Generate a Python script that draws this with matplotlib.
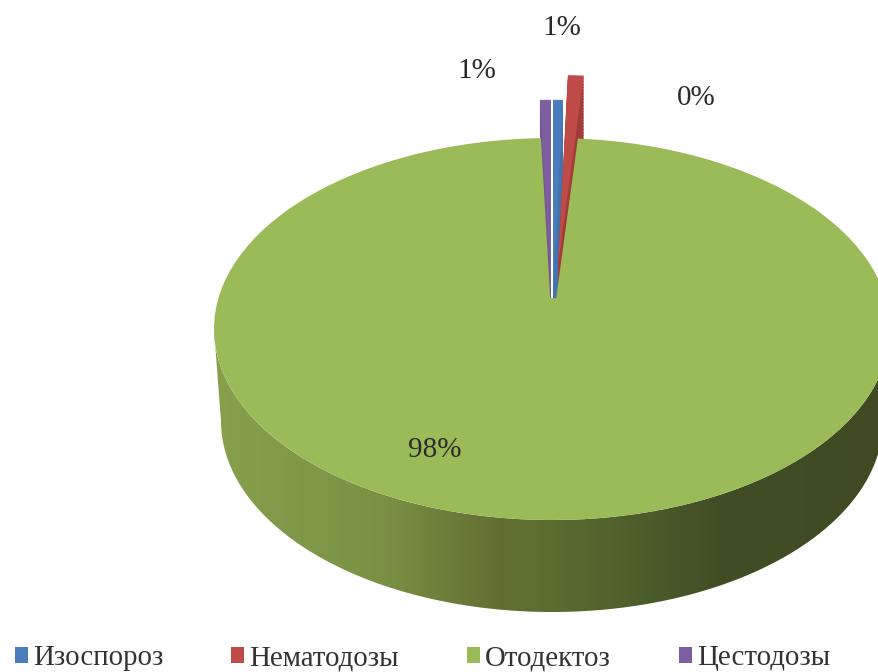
import numpy as np
import matplotlib
matplotlib.use('Agg')
import matplotlib.pyplot as plt
from matplotlib.colors import LinearSegmentedColormap
from matplotlib.patches import Ellipse, Polygon

plt.rcParams['font.family'] = ['Liberation Serif', 'DejaVu Serif']

categories = ['Изоспороз', 'Нематодозы', 'Отодектоз', 'Цестодозы']
values = [0.47, 0.75, 98.26, 0.52]
explode = [0.2, 0.33, 0.0, 0.2]
colors = ['#4a7ebb', '#be4b48', '#9bbb59', '#7d5fa0']
# боковые грани: зелёная рисуется отдельно, градиентом
side_colors = ['#4273ad', '#a03c39', 'none', '#71558f']

W, H = 879, 672
cx, cy, rx, ry = 552, 329, 338, 191
depth = 92
# на сколько сужается нижний овал из-за перспективы
bottom_rx = 331

fig = plt.figure(figsize=(W / 100, H / 100), dpi=100)
ax = fig.add_axes([0, 0, 1, 1])


def py(y):
    return (cy - y) / ry


# боковая стенка зелёного сектора: градиент, обрезанный по контуру
t = np.linspace(np.pi, 2 * np.pi, 200)
low_x = bottom_rx / rx * np.cos(t)
low_y = np.sin(t) - depth / ry
top_x = np.cos(t[::-1])
top_y = np.sin(t[::-1])
outline = np.column_stack([np.r_[low_x, top_x], np.r_[low_y, top_y]])
side = Polygon(outline, closed=True, fc='none', ec='none')
ax.add_patch(side)
side_cm = LinearSegmentedColormap.from_list(
    'side', [(0, '#86a04c'), (0.25, '#7a9144'), (0.42, '#626f33'), (0.5, '#5a6e30'),
             (0.75, '#414e25'), (1, '#3f4a22')])
grad = ax.imshow(np.linspace(0, 1, 256).reshape(1, -1), cmap=side_cm, aspect='auto',
                 extent=(-1, 1, py(H), py(0)), zorder=1)
grad.set_clip_path(side)

# боковые грани маленьких секторов
for off in np.arange(depth, 0, -3):
    ax.pie(values, explode=explode, colors=side_colors, startangle=90, counterclock=False,
           center=(0, -off / ry), wedgeprops=dict(zorder=2), frame=True)

# верхняя грань
top, _ = ax.pie(values, explode=explode, colors=colors, startangle=90, counterclock=False,
                wedgeprops=dict(zorder=3), frame=True)
top[2].set_zorder(4)
ax.add_patch(Ellipse((0, 0), 0.16, 2 * 31 / ry, fc=colors[2], ec='none', zorder=5))

ax.set_xlim(-cx / rx, (W - cx) / rx)
ax.set_ylim(py(H), py(0))
ax.set_aspect('auto')
ax.axis('off')

# подписи долей
label_pos = [(696, 98), (562, 28), (435, 450), (477, 71)]
for v, (x, y) in zip(values, label_pos):
    ax.text((x - cx) / rx, py(y), f'{v:.0f}%', ha='center', va='center', fontsize=21,
            color='#2a2a2a', zorder=6)

leg = ax.legend(top, categories, loc='lower left', bbox_to_anchor=(0.007, -0.012), ncol=4,
                frameon=False, fontsize=20.8, handlelength=0.45, handleheight=0.5,
                handletextpad=0.18, columnspacing=2.35, borderaxespad=0, borderpad=0.3,
                labelcolor='#333333')

fig.savefig('out.png', dpi=100)
